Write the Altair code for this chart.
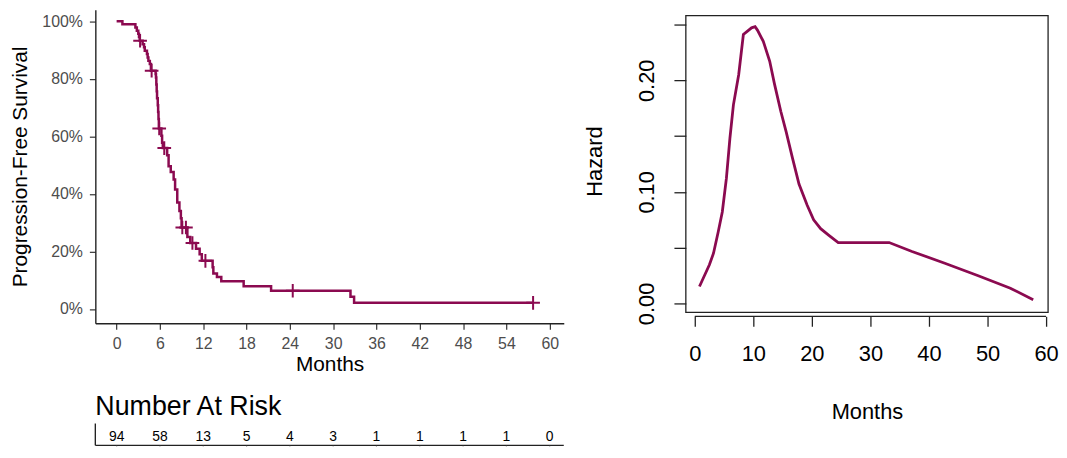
import altair as alt
import pandas as pd

# ---------------- data ----------------
km_time = [0, 0.8, 2.6, 2.8, 3.0, 3.1, 3.2, 3.6, 3.8, 3.9, 4.2, 4.3, 4.4, 4.6, 4.75,
           5.4, 5.45, 5.5, 5.55, 5.6, 5.7, 5.75, 5.8, 5.85, 6.2, 6.3, 6.4,
           7.0, 7.2, 7.5, 7.9, 8.1, 8.4, 8.7, 8.9, 9.0, 9.8, 10.2, 11.0, 11.5, 11.8,
           13.3, 13.4, 13.9, 14.5, 17.6, 21.4, 32.4, 32.9, 57.7]
km_surv = [1.0, 0.989, 0.978, 0.967, 0.956, 0.945, 0.932, 0.920, 0.909, 0.897, 0.886, 0.874, 0.862, 0.851, 0.828,
           0.816, 0.804, 0.780, 0.756, 0.732, 0.708, 0.684, 0.660, 0.627, 0.602, 0.577, 0.559,
           0.534, 0.496, 0.476, 0.450, 0.415, 0.370, 0.340, 0.315, 0.283, 0.250, 0.229, 0.209, 0.190, 0.167,
           0.145, 0.123, 0.111, 0.096, 0.079, 0.063, 0.042, 0.021, 0.021]

cens_time = [3.25, 4.85, 5.9, 6.6, 9.1, 9.6, 10.5, 12.3, 24.4, 57.7]
cens_surv = [0.932, 0.828, 0.627, 0.559, 0.283, 0.283, 0.229, 0.167, 0.063, 0.021]

risk_time = [0, 6, 12, 18, 24, 30, 36, 42, 48, 54, 60]
risk_n = [94, 58, 13, 5, 4, 3, 1, 1, 1, 1, 0]

haz_time = [0.8, 2.5, 3.2, 4.0, 4.7, 5.4, 6.0, 6.6, 7.5, 8.3, 8.9, 9.7, 10.3, 10.7, 11.7,
            12.8, 13.6, 14.7, 15.6, 16.7, 17.8, 19.2, 20.3, 21.5, 22.8, 24.5, 33.2,
            37.1, 42.7, 48.3, 53.9, 57.8]
haz_val = [0.0152, 0.0346, 0.045, 0.064, 0.082, 0.112, 0.148, 0.178, 0.205, 0.241, 0.2436, 0.247, 0.248, 0.245, 0.235,
           0.217, 0.197, 0.172, 0.154, 0.130, 0.107, 0.088, 0.075, 0.067, 0.0615, 0.0546, 0.0546,
           0.0466, 0.036, 0.025, 0.0137, 0.0033]

haz_ticks_x = [0, 10, 20, 30, 40, 50, 60]
haz_ticks_y = [0, 0.05, 0.10, 0.15, 0.20, 0.25]

COLOR = "#8B0A50"
FONT = "Liberation Sans"
LW, LH = 472, 316
RW, RH = 365, 305      # right chart: box drawn from y=BOX_TOP to y=RH
BOX_TOP = 6

km_df = pd.DataFrame({"t": km_time, "s": km_surv})
cens_df = pd.DataFrame({"t": cens_time, "s": cens_surv})
risk_df = pd.DataFrame({"t": risk_time, "n": risk_n})
haz_df = pd.DataFrame({"t": haz_time, "h": haz_val})
one = pd.DataFrame({"label": ["Number At Risk"]})

# ---------------- left: Kaplan-Meier ----------------
xs = alt.Scale(domain=[-2.95, 61.95], nice=False, zero=False)
ys = alt.Scale(domain=[-0.05, 1.04], nice=False, zero=False)

km_line = alt.Chart(km_df).mark_line(interpolate="step-after", color=COLOR, strokeWidth=2.5).encode(
    x=alt.X("t:Q", scale=xs, axis=alt.Axis(
        values=risk_time, title="Months", grid=False, labelFlush=False,
        domainColor="#222", domainWidth=1.4, tickColor="#333", tickWidth=1.2, tickSize=6,
        labelFontSize=16, labelColor="#4d4d4d", labelPadding=6,
        titleFontSize=21, titleFontWeight="normal", titleColor="black", titlePadding=3)),
    y=alt.Y("s:Q", scale=ys, axis=alt.Axis(
        values=[0, 0.2, 0.4, 0.6, 0.8, 1.0], format=".0%", title="Progression-Free Survival",
        grid=False, labelFlush=False,
        domainColor="#222", domainWidth=1.4, tickColor="#333", tickWidth=1.2, tickSize=6,
        labelFontSize=16, labelColor="#4d4d4d", labelPadding=7,
        titleFontSize=21, titleFontWeight="normal", titleColor="black", titlePadding=11)),
)

cens = alt.Chart(cens_df).mark_point(
    shape="M-1,0L1,0M0,-1L0,1", size=190, filled=False, color=COLOR, strokeWidth=2.0, opacity=1
).encode(x="t:Q", y="s:Q")

risk_title = alt.Chart(one).mark_text(
    align="left", baseline="alphabetic", fontSize=27, color="black"
).encode(x=alt.value(0), y=alt.value(408), text="label:N")

risk_v = alt.Chart(one).mark_rule(color="#222", strokeWidth=1.4).encode(
    x=alt.value(0), y=alt.value(417), y2=alt.value(439))
risk_h = alt.Chart(one).mark_rule(color="#222", strokeWidth=1.4).encode(
    x=alt.value(0), x2=alt.value(LW), y=alt.value(439))
risk_ticks = alt.Chart(risk_df).mark_rule(color="#333", strokeWidth=1.2).encode(
    x="t:Q", y=alt.value(439), y2=alt.value(440))
risk_text = alt.Chart(risk_df).mark_text(
    baseline="middle", align="center", fontSize=14, color="black"
).encode(x="t:Q", y=alt.value(431), text="n:Q")

left = alt.layer(km_line, cens, risk_title, risk_v, risk_h, risk_ticks, risk_text).properties(
    width=LW, height=LH)

# ---------------- right: hazard ----------------
hxs = alt.Scale(domain=[-1.525, 60.34], nice=False, zero=False)
hys = alt.Scale(domain=[-0.008, 0.2633], nice=False, zero=False)

haz_line = alt.Chart(haz_df).mark_line(color=COLOR, strokeWidth=2.8).encode(
    x=alt.X("t:Q", scale=hxs, axis=alt.Axis(
        values=haz_ticks_x, title="Months", grid=False, domain=False, offset=4, labelFlush=False,
        tickColor="#222", tickWidth=1.3, tickSize=10,
        labelFontSize=22, labelColor="black", labelPadding=18,
        titleFontSize=22, titleFontWeight="normal", titleColor="black", titlePadding=37)),
    y=alt.Y("h:Q", scale=hys, axis=alt.Axis(
        values=haz_ticks_y, title="Hazard", grid=False, domain=False, labelFlush=False,
        labelOverlap=False,
        labelExpr="abs(datum.value*10 - round(datum.value*10)) < 0.001 ? format(datum.value, '.2f') : ''",
        labelAngle=270, labelAlign="center", labelBaseline="bottom",
        tickColor="#222", tickWidth=1.3, tickSize=12,
        labelFontSize=22, labelColor="black", labelPadding=16,
        titleFontSize=22, titleFontWeight="normal", titleColor="black", titlePadding=29)),
)

axis_rule_df = pd.DataFrame({"t": [0], "t2": [60]})
haz_axis_line = alt.Chart(axis_rule_df).mark_rule(color="#222", strokeWidth=1.3).encode(
    x="t:Q", x2="t2:Q", y=alt.value(RH + 4))

box = alt.Chart(one).mark_rect(fill=None, stroke="#222", strokeWidth=1.3).encode(
    x=alt.value(0), x2=alt.value(RW), y=alt.value(BOX_TOP), y2=alt.value(RH))

right = alt.layer(box, haz_line, haz_axis_line).properties(width=RW, height=RH)

chart = alt.hconcat(left, right, spacing=18).properties(
    padding={"left": 2, "top": 0, "right": 0, "bottom": 0}
).configure(font=FONT).configure_view(stroke=None)

chart.save("out.html", embed_options={"renderer": "svg", "actions": False})
